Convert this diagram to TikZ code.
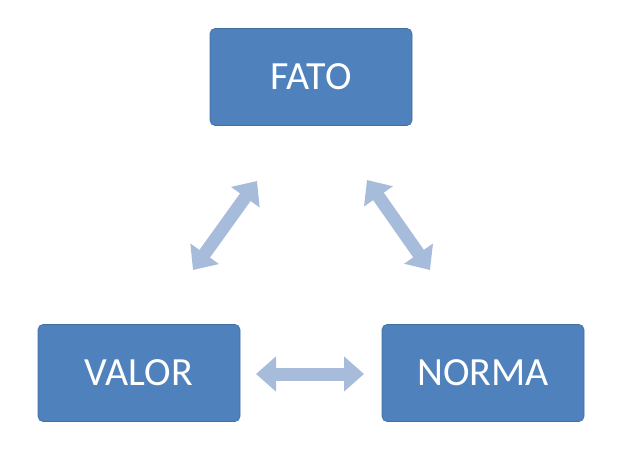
\documentclass[tikz,border=0pt]{standalone}
\usepackage{fontspec}
\setmainfont{Carlito}
\usetikzlibrary{arrows.meta}
\definecolor{boxblue}{HTML}{4F81BD}
\definecolor{arrblue}{HTML}{A7BBDA}
\tikzset{
  box/.style={fill=boxblue, draw=boxblue!85!black, line width=0.6pt, rounded corners=5pt, minimum width=202pt, minimum height=97pt, text=white, font=\fontsize{40}{40}\selectfont, inner sep=0pt},
  fat/.style={draw=arrblue, line width=13pt, {Triangle[width=34pt,length=20pt]}-{Triangle[width=34pt,length=20pt]}}
}
\begin{document}
\begin{tikzpicture}[x=1pt,y=-1pt]
\useasboundingbox (0,0) rectangle (640,449);
\node[box] (fato) at (311,77) {FATO};
\node[box] (valor) at (139,373) {VALOR};
\node[box] (norma) at (483,373) {NORMA};
\coordinate (a1) at (257,181);
\coordinate (a2) at (193,270);
\coordinate (b1) at (367,180);
\coordinate (b2) at (430,270);
\coordinate (c1) at (256,374);
\coordinate (c2) at (364,374);
\draw[fat] (a1) -- (a2);
\draw[fat] (b1) -- (b2);
\draw[fat] (c1) -- (c2);
\end{tikzpicture}
\end{document}
